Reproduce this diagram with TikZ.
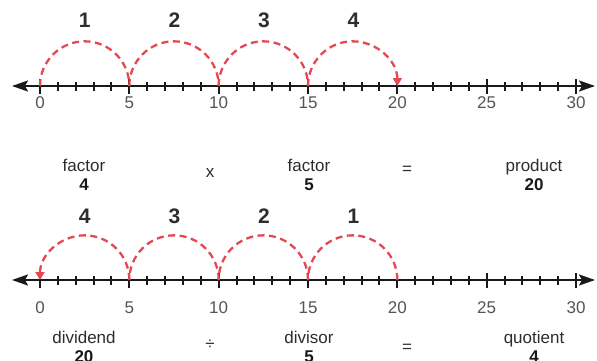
\documentclass[tikz,border=0pt]{standalone}
\usepackage{fontspec}
\setmainfont{Liberation Sans}
\usetikzlibrary{arrows.meta}
\definecolor{jumpred}{RGB}{228,72,82}
\definecolor{txtgray}{RGB}{45,45,45}
\definecolor{ticklab}{RGB}{85,85,85}
\begin{document}
\begin{tikzpicture}[x=1pt,y=1pt,
  axisline/.style={line width=2.2pt,black!90,{Stealth[length=16pt,width=11pt,inset=3pt]}-{Stealth[length=16pt,width=11pt,inset=3pt]}},
  minortick/.style={line width=2pt,black!90},
  majortick/.style={line width=2pt,black!90},
  jump/.style={jumpred,line width=2.3pt,dash pattern=on 7pt off 4.5pt},
  jumptip/.style={-{Triangle[length=8pt,width=9pt]}},
  ticktext/.style={font=\fontsize{17}{20}\selectfont,text=ticklab,anchor=base,inner sep=0pt},
  jumpnum/.style={font=\fontsize{21}{24}\selectfont\bfseries,text=txtgray,anchor=base,inner sep=0pt},
  wordtext/.style={font=\fontsize{17}{20}\selectfont,text=txtgray,anchor=base,inner sep=0pt},
  numtext/.style={font=\fontsize{17}{20}\selectfont\bfseries,text=black!90,anchor=base,inner sep=0pt},
  optext/.style={font=\fontsize{17}{20}\selectfont,text=txtgray,inner sep=0pt}
]
\useasboundingbox[fill=white] (0,0) rectangle (597,360);

% ---------- top number line ----------
\coordinate (TL) at (12,274);
\coordinate (TR) at (595,274);
\draw[axisline] (TL) -- (TR);
\foreach \v in {0,...,30}{
  \coordinate (T\v) at ({40+17.867*\v},274);
  \pgfmathtruncatemacro{\r}{mod(\v,5)}
  \ifnum\r=0
    \draw[majortick] ([yshift=-7.5pt]T\v) -- ([yshift=7.5pt]T\v);
  \else
    \draw[minortick] ([yshift=-4.5pt]T\v) -- ([yshift=4.5pt]T\v);
  \fi
}
\foreach \v in {0,5,...,30}{
  \node[ticktext] (TN\v) at ({40+17.867*\v},252) {\v};
}
\draw[jump] (T0) arc[start angle=180,end angle=0,radius=44.67];
\draw[jump] (T5) arc[start angle=180,end angle=0,radius=44.67];
\draw[jump] (T10) arc[start angle=180,end angle=0,radius=44.67];
\draw[jump,jumptip] (T15) arc[start angle=180,end angle=0,radius=44.67];
\node[jumpnum] (J1) at (84.7,333) {1};
\node[jumpnum] (J2) at (174.5,333) {2};
\node[jumpnum] (J3) at (264,333) {3};
\node[jumpnum] (J4) at (353.5,333) {4};

\node[wordtext] (F1) at (84,189) {factor};
\node[numtext] (F1n) at (84,170) {4};
\node[optext] (TIMES) at (210,187) {x};
\node[wordtext] (F2) at (309,189) {factor};
\node[numtext] (F2n) at (309,170) {5};
\node[optext] (EQ1) at (407,190) {=};
\node[wordtext] (P) at (534,189) {product};
\node[numtext] (Pn) at (534,170) {20};

% ---------- bottom number line ----------
\coordinate (BL) at (12,80);
\coordinate (BR) at (595,80);
\draw[axisline] (BL) -- (BR);
\foreach \v in {0,...,30}{
  \coordinate (B\v) at ({40+17.867*\v},80);
  \pgfmathtruncatemacro{\r}{mod(\v,5)}
  \ifnum\r=0
    \draw[majortick] ([yshift=-7.5pt]B\v) -- ([yshift=7.5pt]B\v);
  \else
    \draw[minortick] ([yshift=-4.5pt]B\v) -- ([yshift=4.5pt]B\v);
  \fi
}
\foreach \v in {0,5,...,30}{
  \node[ticktext] (BN\v) at ({40+17.867*\v},47) {\v};
}
\draw[jump] (B20) arc[start angle=0,end angle=180,radius=44.67];
\draw[jump] (B15) arc[start angle=0,end angle=180,radius=44.67];
\draw[jump] (B10) arc[start angle=0,end angle=180,radius=44.67];
\draw[jump,jumptip] (B5) arc[start angle=0,end angle=180,radius=44.67];
\node[jumpnum] (K4) at (84.7,137) {4};
\node[jumpnum] (K3) at (174.5,137) {3};
\node[jumpnum] (K2) at (264,137) {2};
\node[jumpnum] (K1) at (353.5,137) {1};

\node[wordtext] (D1) at (84,17) {dividend};
\node[numtext] (D1n) at (84,-2) {20};
\node[optext] (DIV) at (210,15) {÷};
\node[wordtext] (D2) at (309,17) {divisor};
\node[numtext] (D2n) at (309,-2) {5};
\node[optext] (EQ2) at (407,12) {=};
\node[wordtext] (Q) at (534,17) {quotient};
\node[numtext] (Qn) at (534,-2) {4};
\end{tikzpicture}
\end{document}
